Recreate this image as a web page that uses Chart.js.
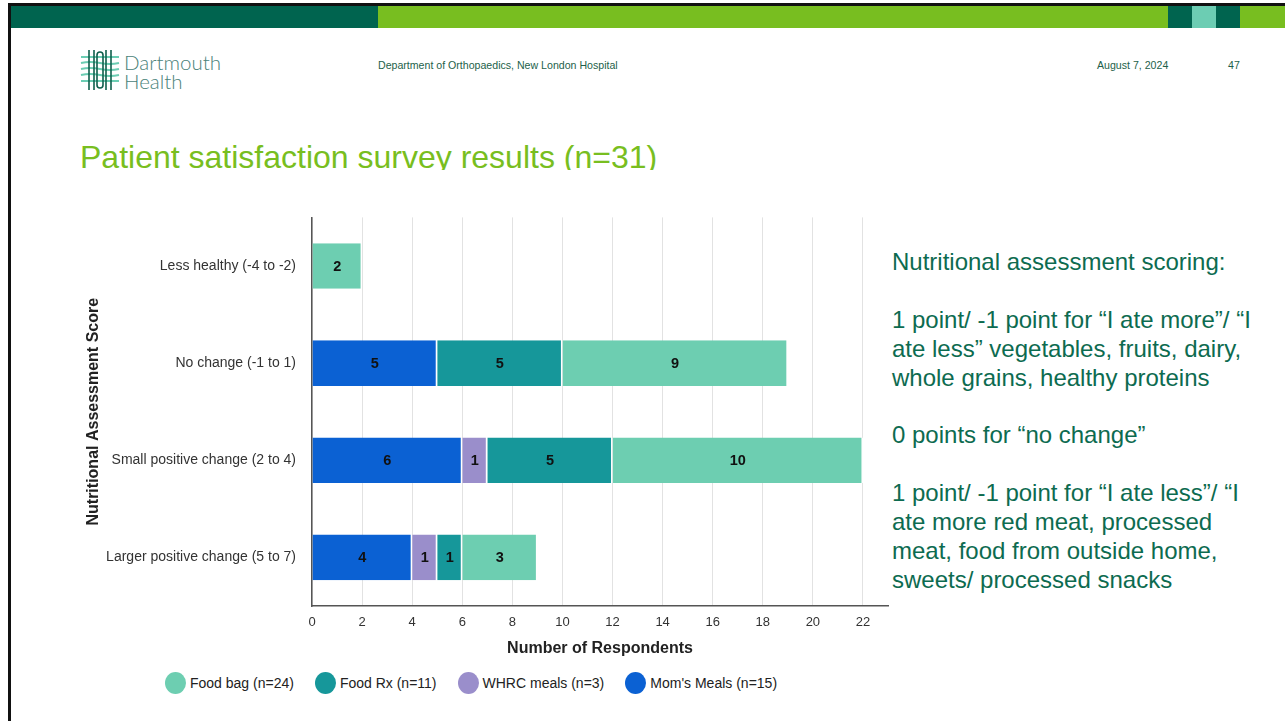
<!DOCTYPE html>
<html>
<head>
<meta charset="utf-8">
<script src="https://cdn.jsdelivr.net/npm/chart.js@4/dist/chart.umd.min.js"></script>
<style>
  html, body { margin: 0; padding: 0; background: #fff; }
  body { width: 1285px; height: 721px; position: relative; overflow: hidden; font-family: "Liberation Sans", Arial, sans-serif; }
  .topline { position: absolute; left: 8px; top: 3px; width: 1277px; height: 3px; background: #111; }
  .leftline { position: absolute; left: 8px; top: 3px; width: 3px; height: 718px; background: #111; }
  .band { position: absolute; top: 6px; height: 22px; }
  .hdr { position: absolute; color: #1d5f4a; font-size: 10.6px; top: 59px; }
  .logo-text { position: absolute; left: 124px; color: #4a8279; font-family: Lato, "Open Sans", sans-serif; font-weight: 300; font-size: 20.5px; line-height: 20px; }
  .title { position: absolute; left: 80px; top: 138px; height: 32px; overflow: hidden; color: #78be20; font-size: 32px; line-height: 38px; white-space: nowrap; }
  .note { position: absolute; left: 892px; top: 248px; color: #0d6b50; font-size: 24px; line-height: 28.9px; white-space: nowrap; }
  #wrap { position: absolute; left: 70px; top: 193px; width: 825px; height: 477px; }
  #legend { position: absolute; left: 165px; top: 672px; display: flex; align-items: center; font-size: 14px; color: #222; }
  #legend .item { display: flex; align-items: center; margin-right: 21px; }
  #legend .dot { width: 21px; height: 22px; border-radius: 50%; margin-right: 4px; }
</style>
</head>
<body>
<div class="topline"></div>
<div class="leftline"></div>
<div class="band" style="left:11px;width:367px;background:#00644f"></div>
<div class="band" style="left:378px;width:790px;background:#78be20"></div>
<div class="band" style="left:1168px;width:24px;background:#00644f"></div>
<div class="band" style="left:1192px;width:24px;background:#6ccdb3"></div>
<div class="band" style="left:1216px;width:24px;background:#00644f"></div>
<div class="band" style="left:1240px;width:45px;background:#78be20"></div>

<svg style="position:absolute;left:80px;top:48px" width="40" height="44" viewBox="0 0 40 44">
  <g stroke="#6ccdb3" stroke-width="2" fill="none">
    <path d="M1 9 H39"/><path d="M1 15 Q10 13 20 15 T39 15"/><path d="M1 21 Q10 19 20 21 T39 21"/>
    <path d="M1 27 Q10 25 20 27 T39 27"/><path d="M1 33 H39"/>
  </g>
  <g stroke="#0f5f4c" stroke-width="1.6" fill="none">
    <path d="M9 2 V42"/><path d="M31 2 V42"/>
    <path d="M14 2 V42"/><path d="M26 2 V42"/>
    <rect x="17" y="4" width="6" height="36" rx="3"/>
  </g>
</svg>
<div class="logo-text" style="top:52px">Dartmouth</div>
<div class="logo-text" style="top:71px">Health</div>

<div class="hdr" style="left:378px">Department of Orthopaedics, New London Hospital</div>
<div class="hdr" style="left:1097px">August 7, 2024</div>
<div class="hdr" style="left:1228px">47</div>

<div class="title">Patient satisfaction survey results (n=31)</div>

<div class="note">Nutritional assessment scoring:<br><br>1 point/ -1 point for “I ate more”/ “I<br>ate less” vegetables, fruits, dairy,<br>whole grains, healthy proteins<br><br>0 points for “no change”<br><br>1 point/ -1 point for “I ate less”/ “I<br>ate more red meat, processed<br>meat, food from outside home,<br>sweets/ processed snacks</div>

<div id="wrap"><canvas id="chart"></canvas></div>
<div id="legend"></div>

<script>
// Score groups (y categories)
const categories = [
  'Less healthy (-4 to -2)',
  'No change (-1 to 1)',
  'Small positive change (2 to 4)',
  'Larger positive change (5 to 7)'
];

// Respondents per program in each score group
const momsMeals  = [0, 5, 6, 4];
const whrcMeals  = [0, 0, 1, 1];
const foodRx     = [0, 5, 5, 1];
const foodBag    = [2, 9, 10, 3];

// Series names as shown in the legend
const seriesNames = ["Mom's Meals (n=15)", 'WHRC meals (n=3)', 'Food Rx (n=11)', 'Food bag (n=24)'];
const seriesColors = ['#0b61d3', '#9a8ecb', '#16979a', '#6dceb1'];

// x-axis tick values
const xTicks = [0, 2, 4, 6, 8, 10, 12, 14, 16, 18, 20, 22];
const xMax = 23;

const seriesValues = [momsMeals, whrcMeals, foodRx, foodBag];

const datasets = seriesValues.map((vals, i) => ({
  label: seriesNames[i],
  data: vals,
  backgroundColor: seriesColors[i],
  borderColor: '#ffffff',
  borderWidth: { left: 0, right: 1.5, top: 0, bottom: 0 },
  borderSkipped: false,
  barPercentage: 0.47,
  categoryPercentage: 1
}));

// Writes each segment's count in the middle of the segment
const segmentLabels = {
  id: 'segmentLabels',
  afterDatasetsDraw(chart) {
    const ctx = chart.ctx;
    ctx.save();
    ctx.font = 'bold 14.5px "Liberation Sans", Arial, sans-serif';
    ctx.fillStyle = '#111';
    ctx.textAlign = 'center';
    ctx.textBaseline = 'middle';
    chart.data.datasets.forEach((ds, di) => {
      const meta = chart.getDatasetMeta(di);
      meta.data.forEach((el, i) => {
        const v = ds.data[i];
        if (!v) return;
        const p = el.getCenterPoint();
        ctx.fillText(String(v), p.x, p.y + 1);
      });
    });
    ctx.restore();
  }
};

new Chart(document.getElementById('chart'), {
  type: 'bar',
  data: { labels: categories, datasets },
  plugins: [segmentLabels],
  options: {
    indexAxis: 'y',
    responsive: true,
    maintainAspectRatio: false,
    animation: false,
    layout: { padding: { top: 9, right: 7, left: 0, bottom: 0 } },
    plugins: {
      legend: { display: false },
      tooltip: { enabled: false }
    },
    scales: {
      x: {
        stacked: true,
        min: 0,
        max: xMax,
        afterBuildTicks(scale) {
          scale.ticks = xTicks.map(v => ({ value: v }));
        },
        afterFit(scale) { scale.height = 64; },
        grid: { color: '#e2e2e2', lineWidth: 1, drawTicks: false },
        border: { display: true, color: '#555', width: 1.5 },
        ticks: {
          padding: 9,
          color: '#333',
          font: { family: '"Liberation Sans", Arial, sans-serif', size: 13 }
        },
        title: {
          display: true,
          text: 'Number of Respondents',
          color: '#222',
          font: { family: '"Liberation Sans", Arial, sans-serif', size: 16, weight: 'bold' },
          padding: { top: 0, bottom: 12 }
        }
      },
      y: {
        stacked: true,
        afterFit(scale) { scale.width = 242; },
        grid: { display: false, drawTicks: false },
        border: { display: true, color: '#555', width: 1.5 },
        ticks: {
          padding: 16,
          color: '#333',
          font: { family: '"Liberation Sans", Arial, sans-serif', size: 14 }
        },
        title: {
          display: true,
          text: 'Nutritional Assessment Score',
          color: '#222',
          font: { family: '"Liberation Sans", Arial, sans-serif', size: 16, weight: 'bold' },
          padding: { top: 14, bottom: 0 }
        }
      }
    }
  }
});

// Legend, listed from the last series to the first
const legend = document.getElementById('legend');
for (let i = seriesNames.length - 1; i >= 0; i--) {
  const item = document.createElement('div');
  item.className = 'item';
  const dot = document.createElement('span');
  dot.className = 'dot';
  dot.style.background = seriesColors[i];
  const txt = document.createElement('span');
  txt.textContent = seriesNames[i];
  item.appendChild(dot);
  item.appendChild(txt);
  legend.appendChild(item);
}
</script>
</body>
</html>
